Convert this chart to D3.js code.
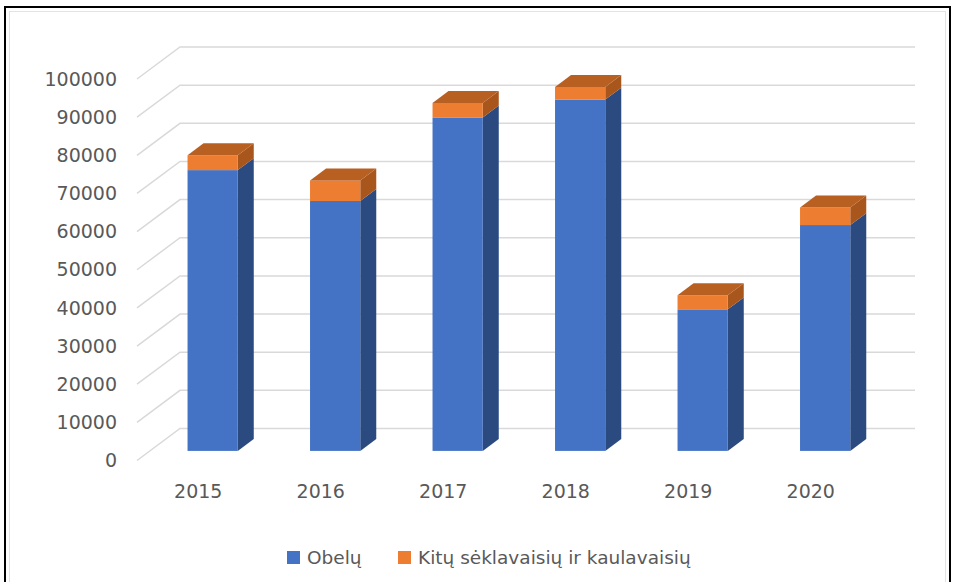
<!DOCTYPE html>
<html>
<head>
<meta charset="utf-8">
<script src="https://cdn.jsdelivr.net/npm/d3@7"></script>
<style>
  body { margin: 0; background: #fff; }
  text { font-family: "DejaVu Sans", Verdana, sans-serif; fill: #595959; }
</style>
</head>
<body>
<svg width="955" height="582"></svg>
<script>
const years = ["2015", "2016", "2017", "2018", "2019", "2020"];
const obelu = [73600, 65500, 87400, 92100, 37100, 59200];
const kitu = [3900, 5400, 3800, 3300, 3700, 4600];
const yTicks = [0, 10000, 20000, 30000, 40000, 50000, 60000, 70000, 80000, 90000, 100000];
const seriesNames = ["Obelų", "Kitų sėklavaisių ir kaulavaisių"];

const svg = d3.select("svg");

// frame
svg.append("rect")
  .attr("x", 5).attr("y", 7)
  .attr("width", 945).attr("height", 600)
  .attr("fill", "none")
  .attr("stroke", "#000")
  .attr("stroke-width", 2);
svg.append("rect")
  .attr("x", 9.5).attr("y", 11.5)
  .attr("width", 936).attr("height", 600)
  .attr("fill", "none")
  .attr("stroke", "#e3e3e3")
  .attr("stroke-width", 1);

// oblique depth of the plot
const depthX = 43;
const depthY = -32;

const x = d3.scaleBand().domain(years).range([137, 872]);
const y = d3.scaleLinear().domain([0, 100000]).range([460.5, 79]);

// gridlines: side wall diagonal + back wall
const grid = svg.append("g")
  .attr("stroke", "#d9d9d9")
  .attr("stroke-width", 1.5)
  .attr("fill", "none");

grid.selectAll("path")
  .data(yTicks)
  .join("path")
  .attr("d", d => {
    const y0 = y(d);
    return `M${x.range()[0]},${y0}L${x.range()[0] + depthX},${y0 + depthY}L${x.range()[1] + depthX},${y0 + depthY}`;
  });

// y tick labels
svg.append("g")
  .selectAll("text")
  .data(yTicks)
  .join("text")
  .attr("x", 117)
  .attr("y", d => y(d))
  .attr("dy", "0.35em")
  .attr("text-anchor", "end")
  .attr("font-size", 19)
  .text(d => d);

// x labels
svg.append("g")
  .selectAll("text")
  .data(years)
  .join("text")
  .attr("x", d => x(d) + x.bandwidth() / 2)
  .attr("y", 498)
  .attr("text-anchor", "middle")
  .attr("font-size", 19)
  .text(d => d);

// bars
const z0 = 0.3;
const z1 = 0.672;
const barW = x.bandwidth() * 0.41;
const bx = z0 * depthX + 1.5, by = z0 * depthY;
const ddx = (z1 - z0) * depthX, ddy = (z1 - z0) * depthY;

const colors = [
  { front: "#4472c4", side: "#2b4a80", top: "#3a62a8" },
  { front: "#ed7d31", side: "#a9561d", top: "#b85f22" }
];

const bars = svg.append("g");

years.forEach((yr, i) => {
  const x0 = x(yr) + x.bandwidth() / 2 - barW / 2 + bx;
  const segs = [
    { lo: 0, hi: obelu[i], c: colors[0] },
    { lo: obelu[i], hi: obelu[i] + kitu[i], c: colors[1] }
  ];
  const g = bars.append("g");
  segs.forEach((s, k) => {
    const yl = y(s.lo) + by;
    const yh = y(s.hi) + by;
    const x1 = x0 + barW;
    // side face
    g.append("path")
      .attr("d", `M${x1},${yl}L${x1 + ddx},${yl + ddy}L${x1 + ddx},${yh + ddy}L${x1},${yh}Z`)
      .attr("fill", s.c.side);
    // front face
    g.append("rect")
      .attr("x", x0).attr("y", yh)
      .attr("width", barW).attr("height", yl - yh)
      .attr("fill", s.c.front);
    // top face only on the topmost segment
    if (k === segs.length - 1) {
      g.append("path")
        .attr("d", `M${x0},${yh}L${x0 + ddx},${yh + ddy}L${x1 + ddx},${yh + ddy}L${x1},${yh}Z`)
        .attr("fill", s.c.top);
    }
  });
});

// legend
const legend = svg.append("g");
const legendX = [287, 398];
seriesNames.forEach((name, i) => {
  legend.append("rect")
    .attr("x", legendX[i]).attr("y", 551)
    .attr("width", 13).attr("height", 13)
    .attr("fill", colors[i].front);
  legend.append("text")
    .attr("x", legendX[i] + 20)
    .attr("y", 564)
    .attr("font-size", 18.5)
    .text(name);
});
</script>
</body>
</html>
